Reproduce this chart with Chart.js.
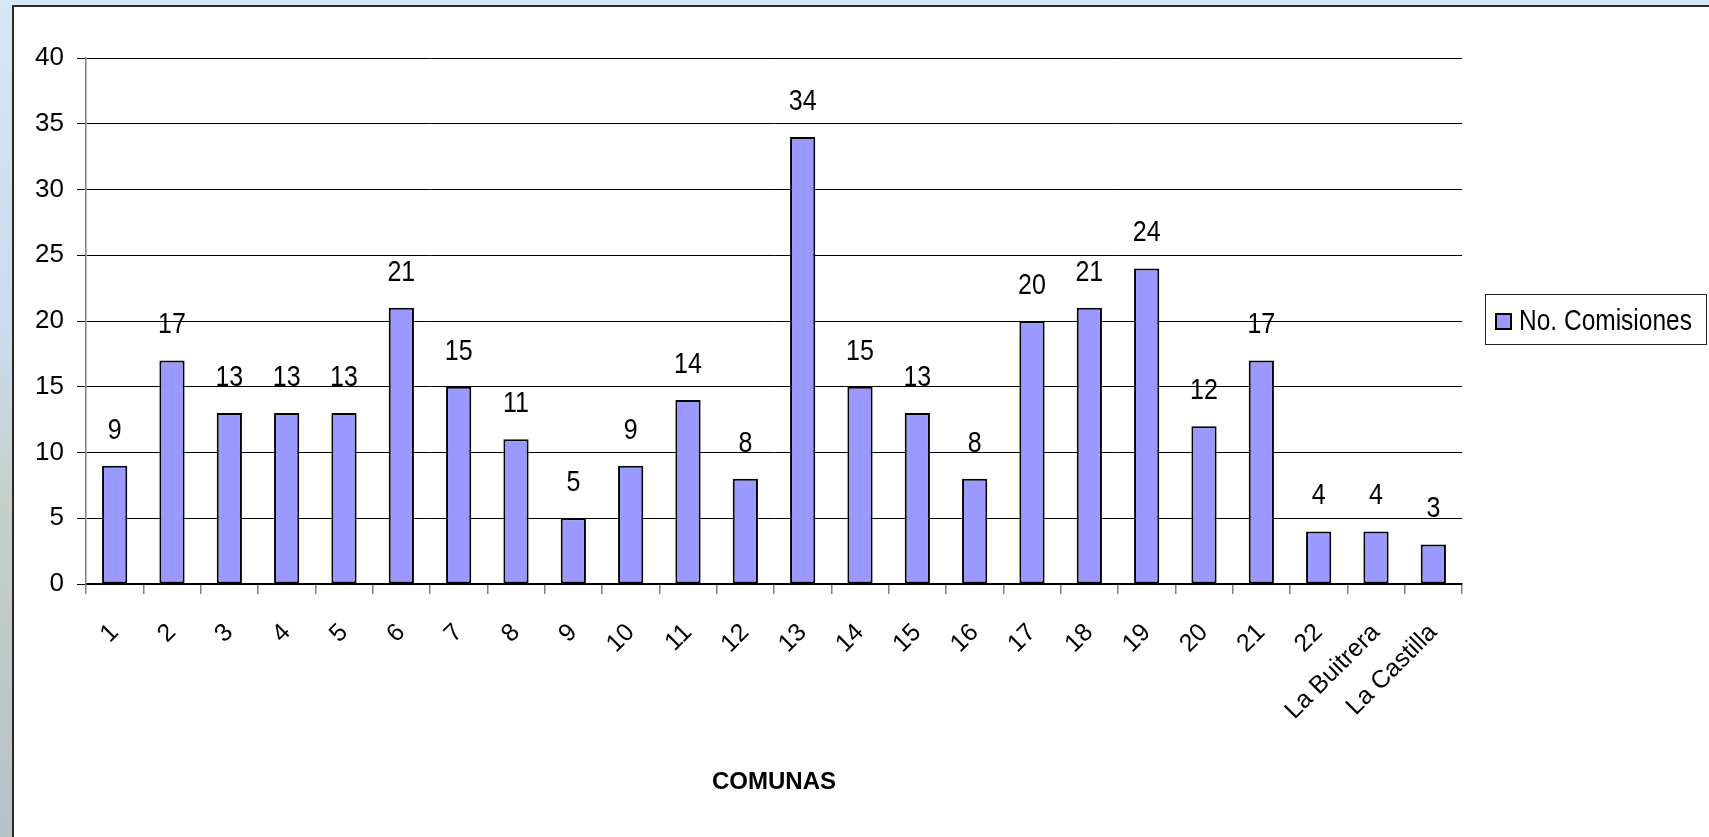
<!DOCTYPE html>
<html>
<head>
<meta charset="utf-8">
<script src="https://cdn.jsdelivr.net/npm/chart.js@4.4.1/dist/chart.umd.min.js"></script>
<style>
  html, body { margin: 0; padding: 0; width: 1709px; height: 837px; overflow: hidden; }
  body { background: linear-gradient(180deg, #d4e7f6 0%, #c9dced 40%, #c7cfc9 60%, #b9c0c8 100%); position: relative; }
  #frame { position: absolute; left: 12px; top: 5px; width: 1720px; height: 860px; background: #fff; border: 2px solid #2a2a2a; }
  #wrap { position: absolute; left: 0; top: 0; width: 1709px; height: 837px; }
  #legend { position: absolute; left: 1485px; top: 294px; width: 222px; height: 51px; border: 1px solid #222; background: #fff;
            font-family: "Liberation Sans", Arial, sans-serif; font-size: 25px; line-height: 50px; color: #000; box-sizing: border-box; }
  #legend .sw { position: absolute; left: 9px; top: 18px; width: 13px; height: 13px; background: #9999ff; border: 2px solid #000; }
  #legend .txt { position: absolute; left: 33px; top: 0; display: inline-block; transform: scale(0.98, 1.15); transform-origin: left center; }
</style>
</head>
<body>
<div id="frame"></div>
<div id="wrap"><canvas id="chart"></canvas></div>
<div id="legend"><span class="sw"></span><span class="txt">No. Comisiones</span></div>
<script>
// --- DONNEES ---
const comunas = ['1', '2', '3', '4', '5', '6', '7', '8', '9', '10', '11', '12', '13', '14', '15', '16',
                 '17', '18', '19', '20', '21', '22', 'La Buitrera', 'La Castilla'];
const comisiones = [9, 17, 13, 13, 13, 21, 15, 11, 5, 9, 14, 8, 34, 15, 13, 8, 20, 21, 24, 12, 17, 4, 4, 3];
const serieLabel = 'No. Comisiones';
const yTicks = [0, 5, 10, 15, 20, 25, 30, 35, 40];

const font = "'Liberation Sans', Arial, sans-serif";

// Valeurs au-dessus des barres (un peu etirees en hauteur comme l'original)
const valueLabels = {
    id: 'valueLabels',
    afterDatasetsDraw(chart) {
        const ctx = chart.ctx;
        const meta = chart.getDatasetMeta(0);
        ctx.save();
        ctx.font = '25px ' + font;
        ctx.fillStyle = '#000';
        ctx.textAlign = 'center';
        ctx.textBaseline = 'middle';
        meta.data.forEach((bar, i) => {
            ctx.save();
            ctx.translate(bar.x, bar.y - 35);
            ctx.scale(1, 1.15);
            ctx.fillText(String(comisiones[i]), 0, 0);
            ctx.restore();
        });
        ctx.restore();
    }
};

new Chart(document.getElementById('chart'), {
    type: 'bar',
    data: {
        labels: comunas,
        datasets: [{
            label: serieLabel,
            data: comisiones,
            backgroundColor: '#9999ff',
            borderColor: '#000',
            borderWidth: 2,
            borderSkipped: false,
            categoryPercentage: 1,
            barPercentage: 0.44
        }]
    },
    options: {
        responsive: true,
        maintainAspectRatio: false,
        animation: false,
        layout: { padding: { left: 0, right: 247, top: 58, bottom: 0 } },
        plugins: { legend: { display: false }, tooltip: { enabled: false } },
        scales: {
            x: {
                afterFit: s => { s.height = 253; },
                grid: { drawOnChartArea: false, drawTicks: true, tickLength: 10, color: '#808080', lineWidth: 1.5 },
                border: { color: '#000', width: 1.5 },
                ticks: { color: '#000', font: { family: font, size: 25 }, minRotation: 45, maxRotation: 45, padding: 24, autoSkip: false },
                title: { display: true, text: 'COMUNAS', color: '#000', font: { family: font, size: 24, weight: 'bold' }, padding: { top: 0, bottom: 40 } }
            },
            y: {
                min: 0, max: 40,
                afterFit: s => { s.width = 86; },
                afterBuildTicks: s => { s.ticks = yTicks.map(v => ({ value: v })); },
                grid: { color: '#000', lineWidth: 1, tickLength: 9 },
                border: { color: '#808080', width: 1.5 },
                ticks: { color: '#000', font: { family: font, size: 26 }, padding: 13 }
            }
        }
    },
    plugins: [valueLabels]
});
</script>
</body>
</html>
